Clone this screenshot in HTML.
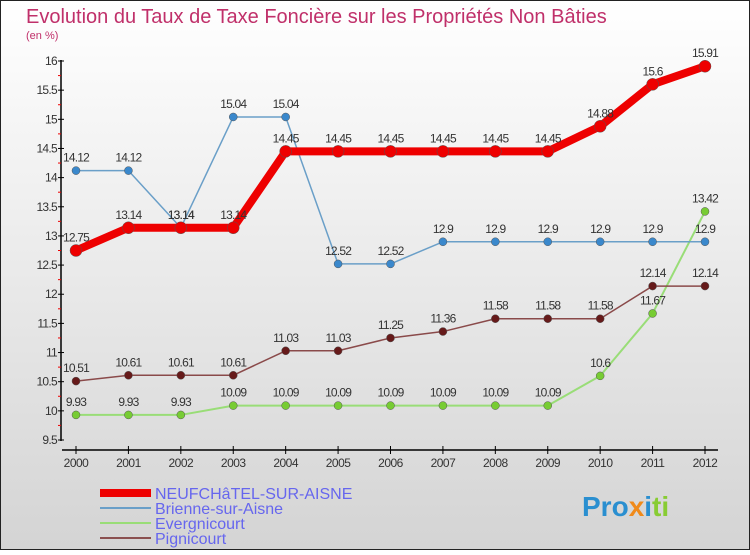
<!DOCTYPE html>
<html><head><meta charset="utf-8"><style>
body{margin:0}
svg text{font-family:"Liberation Sans",sans-serif}
</style></head><body>
<svg id="c" width="750" height="550" xmlns="http://www.w3.org/2000/svg">
<defs><linearGradient id="bg" x1="0" y1="0" x2="0" y2="1"><stop offset="0" stop-color="#ffffff"/><stop offset="1" stop-color="#d4d4d4"/></linearGradient></defs>
<rect x="0.5" y="0.5" width="749" height="549" fill="url(#bg)" stroke="#222"/>
<text x="26" y="23" font-size="20" fill="#c0306a">Evolution du Taux de Taxe Foncière sur les Propriétés Non Bâties</text>
<text x="26" y="39" font-size="11" fill="#c0306a">(en %)</text>
<g id="axes"></g><g id="series"></g>
<g>
<rect x="100" y="489" width="51" height="8" fill="#ee0000"/>
<text x="155" y="499" font-size="16" fill="#6666ee">NEUFCHâTEL-SUR-AISNE</text>
<rect x="100" y="507" width="51" height="2" fill="#6a9fc8"/>
<text x="155" y="514" font-size="16" fill="#6666ee">Brienne-sur-Aisne</text>
<rect x="100" y="522" width="51" height="2" fill="#99dd77"/>
<text x="155" y="529" font-size="16" fill="#6666ee">Evergnicourt</text>
<rect x="100" y="537" width="51" height="2" fill="#8a5050"/>
<text x="155" y="544" font-size="16" fill="#6666ee">Pignicourt</text>
</g>
<text x="582" y="516" font-size="28" font-weight="bold"><tspan fill="#2a8fd0">Pro</tspan><tspan fill="#f08a1a">x</tspan><tspan fill="#2a8fd0">i</tspan><tspan fill="#88cc33">ti</tspan></text>
</svg>
<script>
const years=[2000,2001,2002,2003,2004,2005,2006,2007,2008,2009,2010,2011,2012];
const yTicks=[9.5,10,10.5,11,11.5,12,12.5,13,13.5,14,14.5,15,15.5,16];
const neuf=[12.75,13.14,13.14,13.14,14.45,14.45,14.45,14.45,14.45,14.45,14.88,15.6,15.91];
const brienne=[14.12,14.12,13.14,15.04,15.04,12.52,12.52,12.9,12.9,12.9,12.9,12.9,12.9];
const everg=[9.93,9.93,9.93,10.09,10.09,10.09,10.09,10.09,10.09,10.09,10.6,11.67,13.42];
const pign=[10.51,10.61,10.61,10.61,11.03,11.03,11.25,11.36,11.58,11.58,11.58,12.14,12.14];
const NS='http://www.w3.org/2000/svg';
const X=i=>76+i*(705-76)/12;
const Y=v=>440-(v-9.5)*(379/6.5);
function mk(t,a,p){const e=document.createElementNS(NS,t);for(const k in a)e.setAttribute(k,a[k]);p.appendChild(e);return e;}
const ax=document.getElementById('axes');
const ya=mk('line',{x1:61,y1:60,x2:61,y2:441,stroke:'#000','stroke-width':1.5},ax);


yTicks.forEach(v=>{
 mk('line',{x1:58,y1:Y(v),x2:64,y2:Y(v),stroke:'#000'},ax);
 if(v<16)mk('line',{x1:58,y1:Y(v+0.25),x2:61,y2:Y(v+0.25),stroke:'#e00'},ax);
 const t=mk('text',{x:57,y:Y(v)+4,'font-size':12,fill:'#333','text-anchor':'end','letter-spacing':'-0.7'},ax);
 t.textContent=String(v);
 
 
});
const xa=mk('line',{x1:62,y1:450,x2:718,y2:450,stroke:'#000','stroke-width':1.5},ax);


years.forEach((y,i)=>{
 mk('line',{x1:X(i),y1:446,x2:X(i),y2:454,stroke:'#000'},ax);
 const t=mk('text',{x:X(i),y:467,'font-size':12,fill:'#333','text-anchor':'middle','letter-spacing':'-0.5'},ax);
 t.textContent=String(y);
 
 
});
const sg=document.getElementById('series');
function series(vals,color,dot,w,r,name){
 const g=mk('g',{},sg);
 
 
 const pl=mk('polyline',{points:vals.map((v,i)=>X(i)+','+Y(v)).join(' '),fill:'none',stroke:color,'stroke-width':w,'stroke-linejoin':'round'},g);
 
 
 vals.forEach((v,i)=>{
  const c=mk('circle',{cx:X(i),cy:Y(v),r:r,fill:dot,stroke:'#555','stroke-width':0.5},g);
  
  
  const t=mk('text',{x:X(i),y:Y(v)-9,'font-size':12,fill:'#333','text-anchor':'middle','letter-spacing':'-0.8'},g);
  t.textContent=String(v);
  
  
 });
}
series(everg,'#99dd77','#77cc33',2,4,'evergnicourt');
series(pign,'#8a4a4a','#661a1a',1.5,4,'pignicourt');
series(brienne,'#6a9fc8','#3a88cc',1.5,4,'brienne');
series(neuf,'#ee0000','#ee0000',8,6,'neufchatel');
</script>
</body></html>
